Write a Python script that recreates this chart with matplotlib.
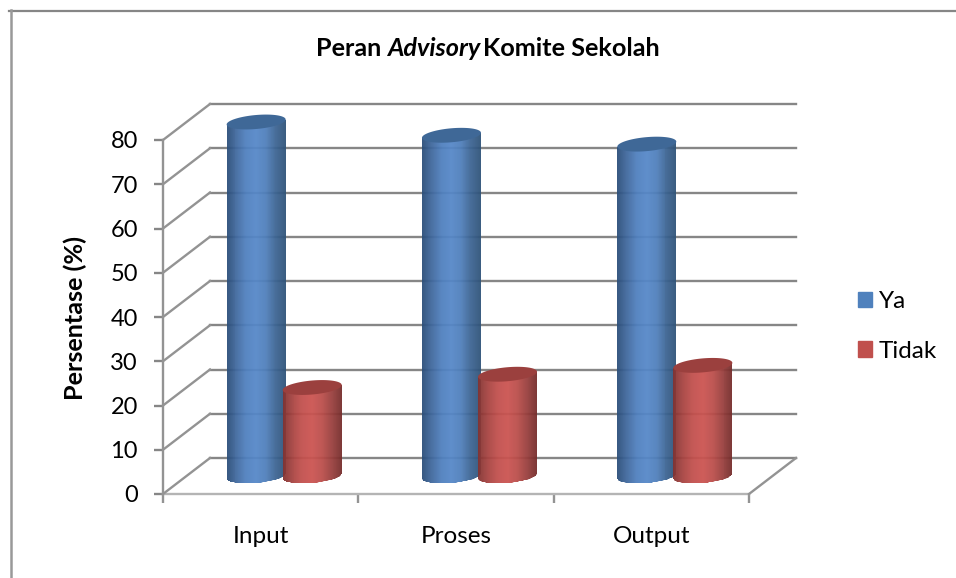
#!/usr/bin/env python3
# -*- coding: utf-8 -*-
import numpy as np
import matplotlib
matplotlib.use('Agg')
import matplotlib.pyplot as plt
from matplotlib.colors import LinearSegmentedColormap
from matplotlib.lines import Line2D
from matplotlib.patches import Patch, PathPatch
from matplotlib.path import Path
from matplotlib.transforms import Affine2D

plt.rcParams['font.family'] = ['Lato', 'DejaVu Sans']

categories = ['Input', 'Proses', 'Output']
ya = [80, 77, 75]
tidak = [20, 23, 25]
y_ticks = [0, 10, 20, 30, 40, 50, 60, 70, 80]

W, H = 956, 578
GREY = '#868686'
LW = 1.7

fig = plt.figure(figsize=(W / 100, H / 100), dpi=100)
ax = fig.add_axes([163 / W, (H - 494) / H, 586 / W, 354 / H])
ax.set_xlim(0, len(categories))
ax.set_ylim(0, y_ticks[-1])
ax.patch.set_visible(False)

# pixels per data unit
px_x = 586 / 3
px_y = 354 / 80


def depth(d):
    # shift into the 3d depth of the chart (d=0 front, d=1 back wall)
    return ax.transData + Affine2D().translate(47 * d, 36 * d)


# outer frame of the chart, only top and left show
fig.add_artist(Line2D([9 / W, 1], [(H - 11) / H] * 2, color=GREY, lw=1.6))
fig.add_artist(Line2D([10.5 / W] * 2, [0, (H - 10) / H], color='#999999', lw=1.8))

# back wall and side wall grid
for v in y_ticks:
    ax.plot([0, 3], [v, v], color=GREY, lw=LW, transform=depth(1), clip_on=False, zorder=1)
    x0, y0 = depth(0).transform((0, v))
    x1, y1 = depth(1).transform((0, v))
    fig.add_artist(Line2D([x0 / W, x1 / W], [y0 / H, y1 / H], color='#939393', lw=LW, zorder=1))
# right edge of the floor
x0, y0 = depth(0).transform((3, 0))
x1, y1 = depth(1).transform((3, 0))
fig.add_artist(Line2D([x0 / W, x1 / W], [y0 / H, y1 / H], color='#939393', lw=LW, zorder=1))

for name in ['top', 'right']:
    ax.spines[name].set_visible(False)
ax.spines['left'].set_color('#939393')
ax.spines['left'].set_linewidth(LW)
ax.spines['bottom'].set_color('#b4b4b4')
ax.spines['bottom'].set_linewidth(LW)

ax.set_yticks(y_ticks)
ax.set_xticks(range(len(categories) + 1))
ax.set_xticklabels([])
ax.set_xticks(np.arange(len(categories)) + 0.5, minor=True)
ax.set_xticklabels(categories, minor=True, fontsize=17.5)
ax.tick_params(axis='y', color=GREY, width=LW, length=6.5, pad=11.5, labelsize=17)
ax.tick_params(axis='x', which='major', color='#939393', width=LW, length=6.5)
ax.tick_params(axis='x', which='minor', length=0, pad=23)
ax.set_ylabel('Persentase (%)', fontsize=18.2, fontweight='bold')
ax.yaxis.set_label_coords((87 - 163) / 586, (494 - 318) / 354)

blue_map = LinearSegmentedColormap.from_list('b', ['#2b4e7a', '#40699f', '#4f80bf', '#5587c8', '#4f7fbb', '#3c6493', '#2f5379'])
red_map = LinearSegmentedColormap.from_list('r', ['#843331', '#a84341', '#c24f4c', '#cb5350', '#bb4d4a', '#9a3f3d', '#762c2b'])


def cylinder(xc, value, cmap, top_color):
    # one bar: gradient body clipped to the cylinder outline plus a top ellipse
    half = 0.151
    b = 7 / px_y
    slope = 2.5 / px_y / half
    t = np.linspace(np.pi, 2 * np.pi, 50)
    low_x = xc + half * np.cos(t)
    low_y = b * np.sin(t) + slope * (low_x - xc)
    high_x = low_x[::-1]
    high_y = value + slope * (high_x - xc)
    verts = np.column_stack([np.r_[low_x, high_x], np.r_[low_y, high_y]])
    trans = depth(0.5)
    outline = PathPatch(Path(verts), transform=trans, fc='none', ec='none', clip_on=False)
    ax.add_patch(outline)
    xs = np.linspace(xc - half, xc + half, 61)
    mesh = ax.pcolormesh(xs, [-b * 2, value + b * 2], np.linspace(0, 1, 60).reshape(1, -1),
                         cmap=cmap, transform=trans, zorder=3, alpha=0.94)
    mesh.set_clip_path(outline)
    mesh.set_clip_box(None)

    t = np.linspace(0, 2 * np.pi, 100)
    top_x = xc + half * np.cos(t)
    top_y = value + b * np.sin(t) + slope * (top_x - xc)
    ax.add_patch(PathPatch(Path(np.column_stack([top_x, top_y])), transform=trans,
                           fc=top_color, ec='none', zorder=4, clip_on=False))


for i in range(len(categories)):
    cylinder(i + 0.5 - 0.1435, ya[i], blue_map, '#3f6897')
for i in range(len(categories)):
    cylinder(i + 0.5 + 0.1435, tidak[i], red_map, '#9b403e')

# title is set in three pieces because of the italic word
TITLE_SIZE = 18.2
t1 = ax.annotate('Peran ', xy=(316 / W, (H - 48) / H), xycoords='figure fraction', fontsize=TITLE_SIZE,
                 fontweight='bold', va='center', ha='left')
t2 = ax.annotate('Advisory', xy=(1, 0), xycoords=t1, va='bottom', ha='left', fontsize=TITLE_SIZE,
                 fontweight='bold', fontstyle='italic')
t3 = ax.annotate('Komite Sekolah', xy=(1, 0), xytext=(2, 0), textcoords='offset points', xycoords=t2,
                 va='bottom', ha='left', fontsize=TITLE_SIZE, fontweight='bold')

handles = [Patch(color='#4f81bd', label='Ya'), Patch(color='#c0504d', label='Tidak')]
fig.legend(handles=handles, loc='center left', bbox_to_anchor=(848 / W, (H - 326.5) / H),
           frameon=False, fontsize=17.5, handlelength=0.6, handleheight=0.6,
           handletextpad=0.28, labelspacing=1.17, borderpad=0.4, borderaxespad=0)

fig.savefig('out.png', dpi=100)
